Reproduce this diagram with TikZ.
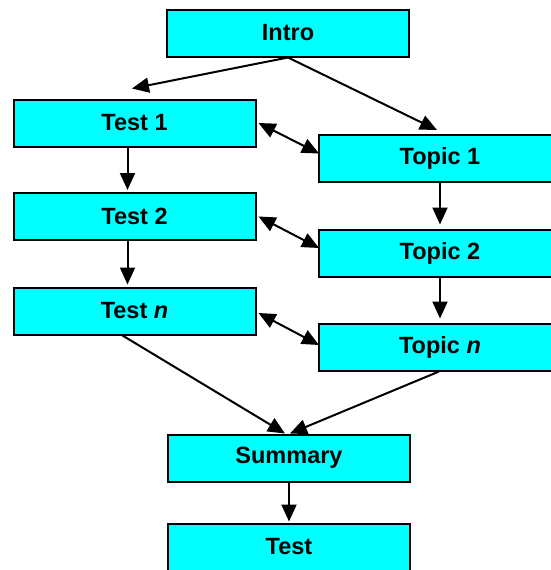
\documentclass[tikz,border=0pt]{standalone}
\usepackage{fontspec}
\setmainfont{Liberation Sans}
\usetikzlibrary{arrows.meta,calc}
\definecolor{boxcyan}{RGB}{0,255,255}
\begin{document}
\begin{tikzpicture}[x=1pt,y=-1pt,
  box/.style={draw=black, line width=2pt, fill=boxcyan, minimum width=242pt, minimum height=47pt, inner sep=0pt, font=\fontsize{23.5}{26}\selectfont\bfseries},
  arr/.style={line width=2pt, -{Triangle[length=17pt,width=15pt]}},
  darr/.style={line width=2pt, {Triangle[length=17pt,width=15pt]}-{Triangle[length=17pt,width=15pt]}}]
\useasboundingbox (0,0) rectangle (551,570);
\clip (0,0) rectangle (551,570);
\node[box] (intro) at (288,33) {Intro};
\node[box] (t1) at (134.5,123) {Test 1};
\node[box] (t2) at (134.5,216.5) {Test 2};
\node[box] (tn) at (134.5,311) {Test \textit{n}};
\node[box] (p1) at (440,158.5) {Topic 1};
\node[box] (p2) at (440,253) {Topic 2};
\node[box] (pn) at (440,347) {Topic \textit{n}};
\node[box] (sum) at (289,458) {Summary};
\node[box] (test) at (289,547) {Test};
\draw[arr] (intro.south) -- ($(t1.north)+(-2.5,-10)$);
\draw[arr] (intro.south) -- ($(p1.north)+(-3,-4)$);
\draw[arr] ($(t1.south)+(-7,0)$) -- ($(t2.north)+(-7,-2)$);
\draw[arr] ($(t2.south)+(-7,0)$) -- ($(tn.north)+(-7,-2)$);
\draw[arr] (p1.south) -- ($(p2.north)+(0,-4)$);
\draw[arr] (p2.south) -- ($(pn.north)+(0,-4)$);
\draw[arr] (sum.south) -- ($(test.north)+(0,-1)$);
\draw[darr] ($(t1.east)+(2,0)$) -- ($(p1.west)+(1,-5)$);
\draw[darr] ($(t2.east)+(2,0)$) -- ($(p2.west)+(1,-5)$);
\draw[darr] ($(tn.east)+(2,2)$) -- ($(pn.west)+(1,-2)$);
\draw[arr] ($(tn.south)+(-12,0)$) -- ($(sum.north)+(-4,0)$);
\draw[arr] ($(pn.south)+(-1,0)$) -- ($(sum.north)+(1,0)$);
\end{tikzpicture}
\end{document}
